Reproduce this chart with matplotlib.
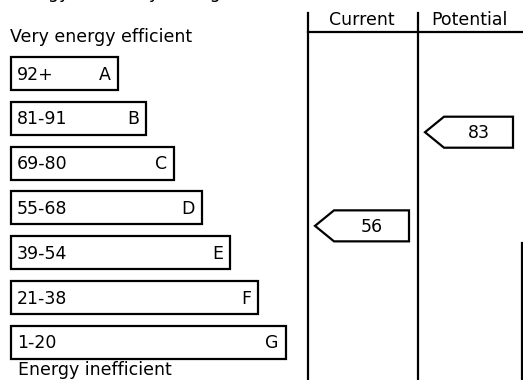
import matplotlib.pyplot as plt
from matplotlib.patches import Rectangle, Polygon

# EPC rating bands
letters = ["A", "B", "C", "D", "E", "F", "G"]
ranges = ["92+", "81-91", "69-80", "55-68", "39-54", "21-38", "1-20"]
lows = [92, 81, 69, 55, 39, 21, 1]
highs = [100, 91, 80, 68, 54, 38, 20]
columns = ["Current", "Potential"]
scores = [56, 83]

W, H = 523, 380
fig = plt.figure(figsize=(W / 100, H / 100), dpi=100)
ax = fig.add_axes([0, 0, 1, 1])
ax.set_xlim(0, W)
ax.set_ylim(H, 0)
ax.axis("off")

fs = 12.5
lw = 1.6
left = 11
top0 = 57
step = 44.8
bh = 33


def band_index(s):
    for i, (lo, hi) in enumerate(zip(lows, highs)):
        if lo <= s <= hi:
            return i
    return len(letters) - 1


# title sits above the crop, only its descenders show
ax.text(8, -2.5, "Energy Efficiency Rating", fontsize=fs, va="baseline", ha="left")

ax.text(10, 37, "Very energy efficient", fontsize=fs, va="center", ha="left")
ax.text(18, 370, "Energy inefficient", fontsize=fs, va="center", ha="left")

for i, (let, rng) in enumerate(zip(letters, ranges)):
    y = top0 + i * step
    w = 107 + 28 * i
    ax.add_patch(Rectangle((left, y), w, bh, fill=False, ec="black", lw=lw))
    ax.text(left + 6, y + bh / 2 + 1, rng, fontsize=fs, va="center", ha="left")
    ax.text(left + w - 7, y + bh / 2 + 1, let, fontsize=fs, va="center", ha="right")

# column frame
col_x = [308, 418, 522]
ax.plot([col_x[0], col_x[0]], [13, H], color="black", lw=lw)
ax.plot([col_x[1], col_x[1]], [13, H], color="black", lw=lw)
ax.plot([col_x[2], col_x[2]], [243, H], color="black", lw=lw)
ax.plot([col_x[0], W], [32, 32], color="black", lw=lw)
for j, name in enumerate(columns):
    ax.text((col_x[j] + col_x[j + 1]) / 2 - 1, 20, name, fontsize=fs,
            va="center", ha="center")

# score arrows
for j, s in enumerate(scores):
    i = band_index(s)
    frac = (highs[i] - s) / (highs[i] - lows[i])
    yc = top0 + i * step + frac * bh + 4
    x0 = col_x[j] + 7
    x1 = col_x[j + 1] - 9
    hh = 15.5
    pts = [(x0, yc), (x0 + 19, yc - hh), (x1, yc - hh), (x1, yc + hh), (x0 + 19, yc + hh)]
    ax.add_patch(Polygon(pts, closed=True, fill=False, ec="black", lw=lw))
    ax.text((x0 + 19 + x1) / 2, yc + 1, str(s), fontsize=fs, va="center", ha="center")

fig.savefig("out.png", dpi=100)
